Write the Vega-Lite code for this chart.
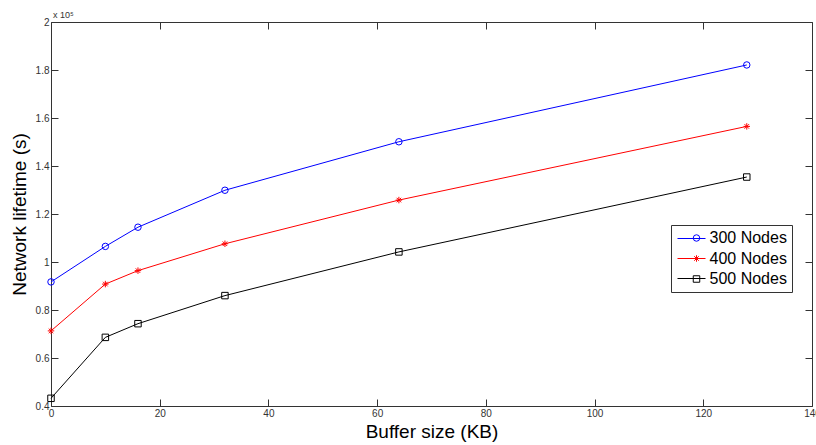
{
  "$schema": "https://vega.github.io/schema/vega-lite/v6.json",
  "width": 761,
  "height": 384,
  "autosize": {"type": "none"},
  "padding": {"left": 51, "top": 22, "right": 4, "bottom": 39},
  "background": "white",
  "title": {"text": "x 10⁵", "anchor": "start", "frame": "group", "fontSize": 9, "fontWeight": "normal", "font": "Liberation Sans", "color": "#333", "offset": 4, "dx": 2, "dy": 7},
  "config": {
    "view": {"stroke": "#333", "strokeWidth": 1},
    "font": "Liberation Sans"
  },
  "data": {
    "values": [
      {"buffer": 0, "lifetime": 0.917, "series": "300 Nodes"},
      {"buffer": 10, "lifetime": 1.065, "series": "300 Nodes"},
      {"buffer": 16, "lifetime": 1.145, "series": "300 Nodes"},
      {"buffer": 32, "lifetime": 1.299, "series": "300 Nodes"},
      {"buffer": 64, "lifetime": 1.501, "series": "300 Nodes"},
      {"buffer": 128, "lifetime": 1.821, "series": "300 Nodes"},
      {"buffer": 0, "lifetime": 0.713, "series": "400 Nodes"},
      {"buffer": 10, "lifetime": 0.908, "series": "400 Nodes"},
      {"buffer": 16, "lifetime": 0.964, "series": "400 Nodes"},
      {"buffer": 32, "lifetime": 1.076, "series": "400 Nodes"},
      {"buffer": 64, "lifetime": 1.258, "series": "400 Nodes"},
      {"buffer": 128, "lifetime": 1.565, "series": "400 Nodes"},
      {"buffer": 0, "lifetime": 0.432, "series": "500 Nodes"},
      {"buffer": 10, "lifetime": 0.686, "series": "500 Nodes"},
      {"buffer": 16, "lifetime": 0.743, "series": "500 Nodes"},
      {"buffer": 32, "lifetime": 0.86, "series": "500 Nodes"},
      {"buffer": 64, "lifetime": 1.042, "series": "500 Nodes"},
      {"buffer": 128, "lifetime": 1.354, "series": "500 Nodes"}
    ]
  },
  "resolve": {"axis": {"x": "independent", "y": "independent"}},
  "layer": [
    {
      "mark": {"type": "line", "strokeWidth": 1},
      "encoding": {
        "x": {
          "field": "buffer", "type": "quantitative",
          "scale": {"domain": [0, 140], "nice": false, "zero": false},
          "axis": {"orient": "bottom", "values": [0, 20, 40, 60, 80, 100, 120, 140], "grid": false, "domain": false, "tickSize": -7, "tickColor": "#333", "labelPadding": 9, "labelFontSize": 10, "labelColor": "#333", "title": "Buffer size (KB)", "titleFontSize": 19, "titleFontWeight": "normal", "titleColor": "#000", "titlePadding": 4, "labelFlush": false}
        },
        "y": {
          "field": "lifetime", "type": "quantitative",
          "scale": {"domain": [0.4, 2], "nice": false, "zero": false},
          "axis": {"orient": "left", "values": [0.4, 0.6, 0.8, 1, 1.2, 1.4, 1.6, 1.8, 2], "format": "~g", "grid": false, "domain": false, "tickSize": -7, "tickColor": "#333", "labelPadding": 9, "labelFontSize": 10, "labelColor": "#333", "title": "Network lifetime (s)", "titleFontSize": 19, "titleFontWeight": "normal", "titleColor": "#000", "titlePadding": 6, "labelFlush": false}
        },
        "color": {
          "field": "series", "type": "nominal",
          "scale": {"range": ["#0000ff", "#ff0000", "#000000"]},
          "legend": {"orient": "none", "legendX": 626, "legendY": 202, "title": null, "symbolType": "stroke", "symbolSize": 784, "symbolStrokeWidth": 1, "labelExpr": "''", "labelFontSize": 10, "labelOffset": 0, "rowPadding": -7.5, "padding": 0}
        }
      }
    },
    {
      "mark": {"type": "point", "filled": false, "size": 42, "strokeWidth": 1, "opacity": 1},
      "encoding": {
        "x": {"field": "buffer", "type": "quantitative", "axis": {"orient": "top", "values": [0, 20, 40, 60, 80, 100, 120, 140], "grid": false, "domain": false, "labels": false, "title": null, "tickSize": -7, "tickColor": "#333"}},
        "y": {"field": "lifetime", "type": "quantitative", "axis": {"orient": "right", "values": [0.4, 0.6, 0.8, 1, 1.2, 1.4, 1.6, 1.8, 2], "grid": false, "domain": false, "labels": false, "title": null, "tickSize": -7, "tickColor": "#333"}},
        "stroke": {
          "field": "series", "type": "nominal",
          "scale": {"domain": ["300 Nodes", "400 Nodes", "500 Nodes"], "range": ["#0000ff", "#ff0000", "#000000"]},
          "legend": {"orient": "none", "legendX": 620, "legendY": 204, "title": null, "symbolSize": 42, "symbolStrokeWidth": 1, "symbolFillColor": "transparent", "symbolOffset": 12.5, "labelFontSize": 16, "labelColor": "#000", "labelOffset": 5, "rowPadding": 4.5, "padding": 5, "strokeColor": "#333"}
        },
        "shape": {
          "field": "series", "type": "nominal",
          "scale": {"domain": ["300 Nodes", "400 Nodes", "500 Nodes"], "range": ["circle", "M-1,0L1,0M0,-1L0,1M-0.7,-0.7L0.7,0.7M-0.7,0.7L0.7,-0.7", "square"]},
          "legend": {"orient": "none", "legendX": 620, "legendY": 203, "title": null}
        }
      }
    }
  ]
}
